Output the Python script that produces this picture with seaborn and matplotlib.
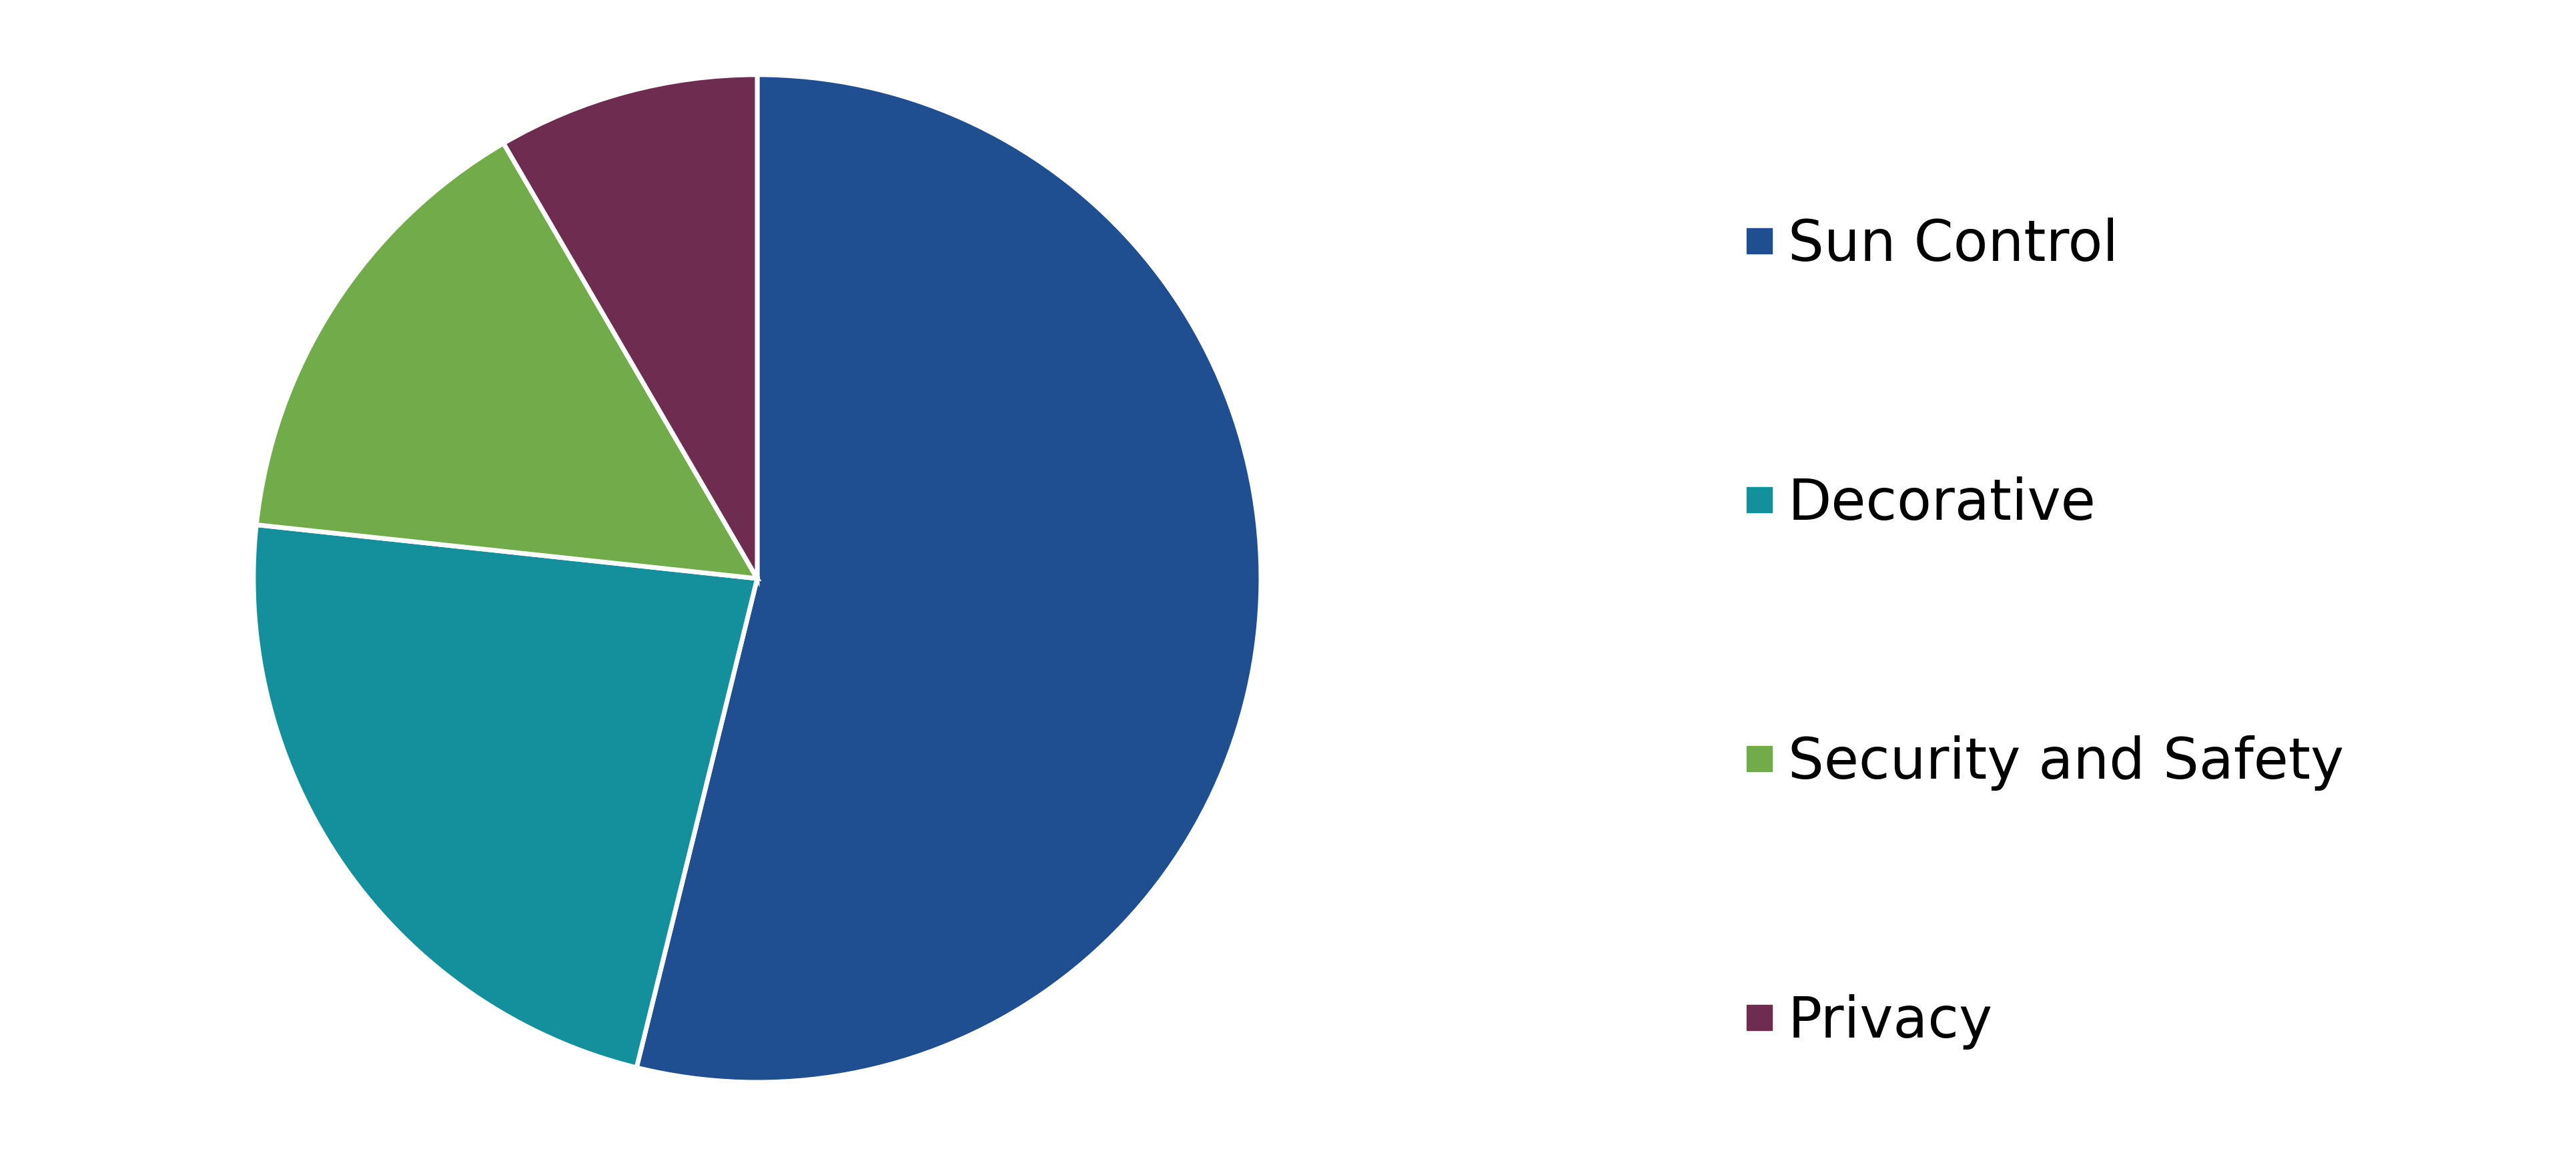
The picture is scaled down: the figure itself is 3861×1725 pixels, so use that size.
import matplotlib
matplotlib.use("Agg")
import matplotlib.pyplot as plt
from matplotlib.lines import Line2D
import seaborn as sns

# film type shares (percent)
categories = ["Sun Control", "Decorative", "Security and Safety", "Privacy"]
shares = [53.85, 22.85, 14.9, 8.4]
colors = ["#1F4E91", "#13909C", "#72AC4A", "#6E2C51"]

sns.set_theme(style="white")
plt.rcParams['font.family'] = ['DejaVu Sans']

fig = plt.figure(figsize=(38.61, 17.25), dpi=100)
ax = fig.add_axes([0.0984, 0.0597, 0.3911, 0.8754])

palette = sns.color_palette(colors)
ax.pie(shares, colors=palette, startangle=90, counterclock=False,
       radius=1.0, wedgeprops=dict(edgecolor="white", linewidth=5))
ax.set_xlim(-1.0, 1.0)
ax.set_ylim(-1.0, 1.0)
ax.set_aspect("equal")

handles = [Line2D([], [], linestyle="none", marker="s", markersize=28,
                  markerfacecolor=c, markeredgecolor=c) for c in palette]
leg = fig.legend(handles, categories, loc="center left",
                 bbox_to_anchor=(2612 / 3861, 0.4495), frameon=False,
                 fontsize=61, labelspacing=3.6, handlelength=0.6,
                 handletextpad=0.2, borderpad=0, borderaxespad=0)
for t in leg.get_texts():
    t.set_color("black")

fig.savefig("out.png", dpi=100, facecolor="white")
